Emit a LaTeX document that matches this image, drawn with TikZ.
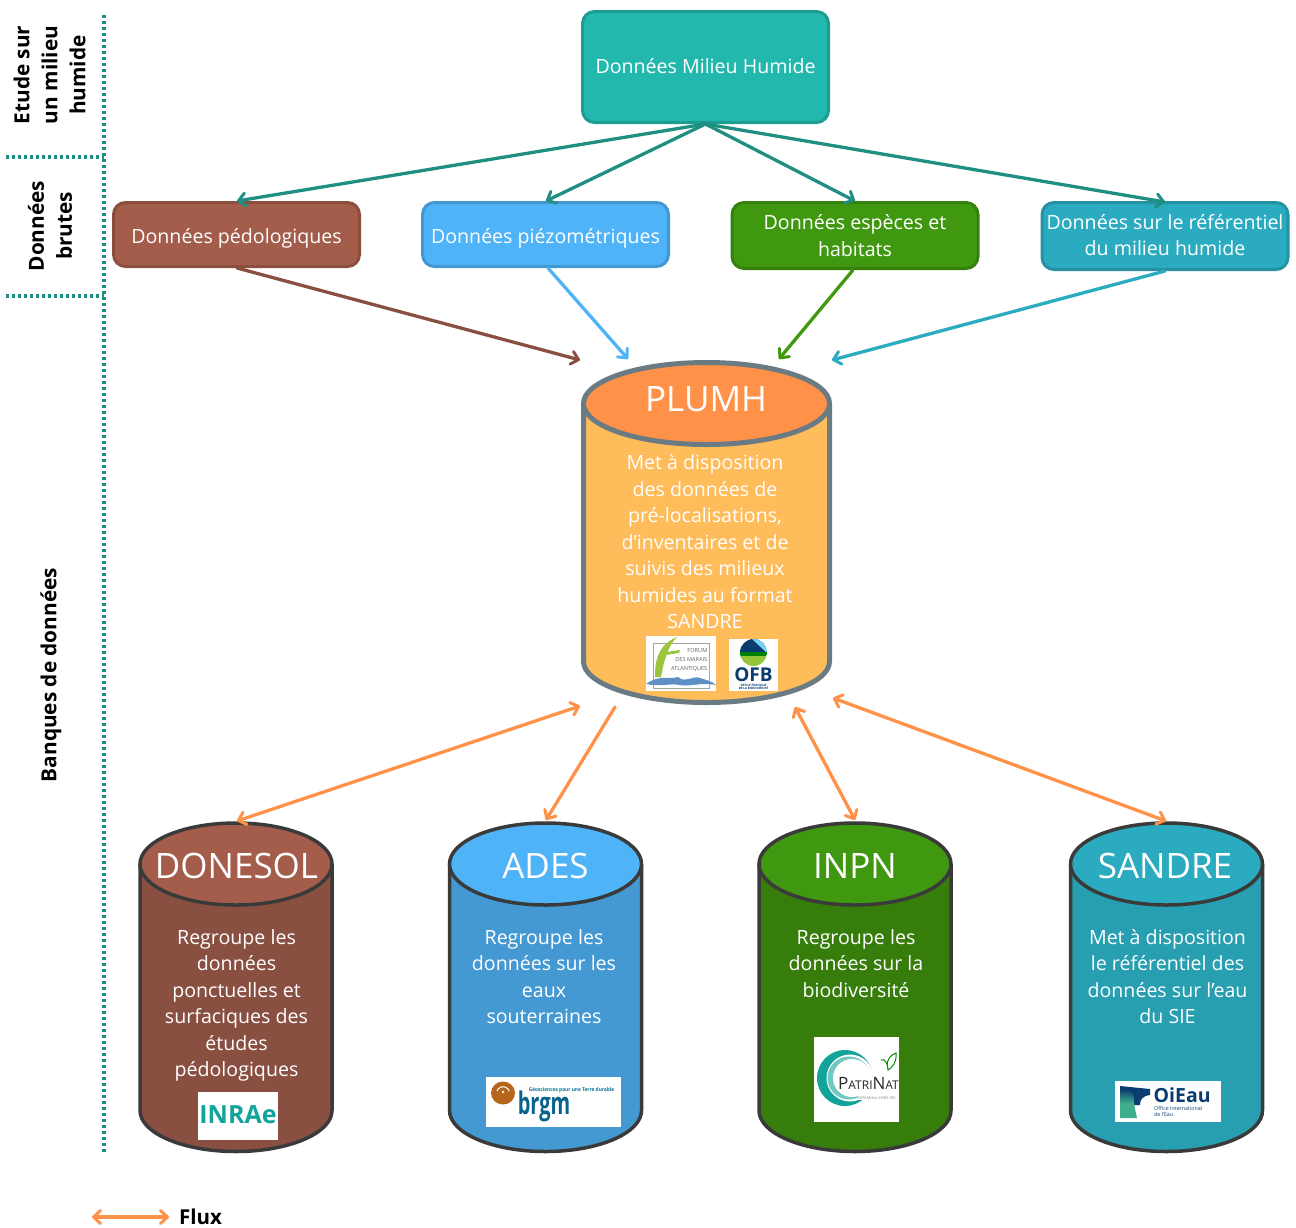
\documentclass[tikz,border=0pt]{standalone}
\usepackage{fontspec}
\setmainfont{Open Sans}
\usetikzlibrary{arrows.meta}
\definecolor{teal1}{HTML}{22B8AD}\definecolor{teal1d}{HTML}{1E9A8E}\definecolor{arrT}{HTML}{1F8F82}
\definecolor{brownA}{HTML}{A35D4A}\definecolor{brownB}{HTML}{895042}
\definecolor{blueA}{HTML}{4FB3F7}\definecolor{blueB}{HTML}{4599D3}
\definecolor{greenA}{HTML}{3F980F}\definecolor{greenB}{HTML}{377D0B}
\definecolor{cyanA}{HTML}{2BABBF}\definecolor{cyanB}{HTML}{279FB1}
\definecolor{orA}{HTML}{FF9248}\definecolor{orB}{HTML}{FFBC5A}\definecolor{greyC}{HTML}{6B7B84}
\definecolor{darkC}{HTML}{3A3A3A}
\definecolor{logoB}{HTML}{0B3C6F}\definecolor{logoT}{HTML}{12A39A}\definecolor{logoBr}{HTML}{B5661B}
\definecolor{fmaG}{HTML}{9BC53D}\definecolor{fmaW}{HTML}{5E90C6}\definecolor{oiG}{HTML}{3FAE8C}
\tikzset{
 box/.style={draw=#1!85!black,line width=3pt,rounded corners=12pt,minimum width=246pt,minimum height=64pt,align=center,text=white,font=\fontsize{19.6}{26.5}\selectfont,inner sep=0pt},
 body/.style={text=white,align=center,font=\fontsize{19.6}{26.5}\selectfont,inner sep=0pt,anchor=north},
 title/.style={text=white,font=\fontsize{35}{40}\selectfont,inner sep=0pt},
 side/.style={rotate=90,align=center,font=\fontsize{20.8}{28}\selectfont\bfseries,inner sep=0pt},
 flow/.style={line width=3.3pt,line cap=round,-{Straight Barb[length=7pt,width=13pt,line width=3pt,round]}},
 bi/.style={line width=3.3pt,line cap=round,orA,{Straight Barb[length=7pt,width=13pt,line width=3pt,round]}-{Straight Barb[length=7pt,width=13pt,line width=3pt,round]}},
 sep/.style={arrT,line width=3.2pt,dash pattern=on 3pt off 3pt},
 logo/.style={fill=white,draw=none}
}
\newcommand{\cyl}[9]{
 \draw[fill=#6,draw=#8,line width=#9] (#1-#4,#2) -- (#1-#4,#3) arc[start angle=180,end angle=360,x radius=#4,y radius=-#5] -- (#1+#4,#2);
 \draw[fill=#7,draw=#8,line width=#9] (#1,#2) ellipse[x radius=#4,y radius=#5];
}
\begin{document}
\begin{tikzpicture}[x=1pt,y=-1pt]
\useasboundingbox (0,0) rectangle (1296,1227);
% separators
\coordinate (vt) at (104,15); \coordinate (vb) at (104,1153);
\coordinate (h1a) at (6,157); \coordinate (h1b) at (104,157);
\coordinate (h2a) at (6,296); \coordinate (h2b) at (104,296);
\draw[sep] (vt) -- (vb); \draw[sep] (h1a) -- (h1b); \draw[sep] (h2a) -- (h2b);
\node[side] (s1) at (49.5,75) {Etude sur\\un milieu\\humide};
\node[side] (s2) at (50,226) {Données\\brutes};
\node[side] (s3) at (51,675) {Banques de données};
% boxes
\node[box=teal1,fill=teal1,minimum height=111pt] (top) at (705.5,67) {\rule[-2pt]{0pt}{0pt}Données Milieu Humide};
\node[box=brownA,fill=brownA] (b1) at (236.5,234.5) {\rule{0pt}{22pt}Données pédologiques};
\node[box=blueA,fill=blueA] (b2) at (545.5,234.5) {\rule{0pt}{22pt}Données piézométriques};
\node[box=greenA,fill=greenA,minimum height=66pt] (b3) at (855,235.5) {Données espèces et\\habitats};
\node[box=cyanA,fill=cyanA,minimum height=67pt] (b4) at (1165,236) {Données sur le référentiel\\du milieu humide\rule[-2pt]{0pt}{0pt}};
% cylinders
\cyl{706.5}{403.5}{661.5}{123}{41}{orB}{orA}{greyC}{5pt}
\node[title] (plumh) at (706,399) {PLUMH};
\node[body] (plumhT) at (705,454.5) {Met à disposition\\des données de\\pré-localisations,\\d’inventaires et de\\suivis des milieux\\humides au format\\SANDRE};
\cyl{236}{864}{1110.5}{96}{41}{brownB}{brownA}{darkC}{3.5pt}
\node[title] (c1) at (236.5,866) {DONESOL};
\node[body] (c1T) at (236.5,929) {Regroupe les\\données\\ponctuelles et\\surfaciques des\\études\\pédologiques};
\cyl{545.5}{864}{1110.5}{96}{41}{blueB}{blueA}{darkC}{3.5pt}
\node[title] (c2) at (545.5,866) {ADES};
\node[body] (c2T) at (544,929) {Regroupe les\\données sur les\\eaux\\souterraines};
\cyl{855}{864}{1110.5}{96}{41}{greenB}{greenA}{darkC}{3.5pt}
\node[title] (c3) at (855,866) {INPN};
\node[body] (c3T) at (856,929) {Regroupe les\\données sur la\\biodiversité};
\cyl{1166.5}{864}{1110.5}{96}{41}{cyanB}{cyanA}{darkC}{3.5pt}
\node[title] (c4) at (1165,866) {SANDRE};
\node[body] (c4T) at (1167.5,929) {Met à disposition\\le référentiel des\\données sur l’eau\\du SIE};
% connector ends
\coordinate (pIn1) at (580,360); \coordinate (pIn2) at (628,359); \coordinate (pIn3) at (779,359); \coordinate (pIn4) at (832,360);
\coordinate (pOut1) at (580,706); \coordinate (pOut2) at (615,707); \coordinate (pOut3) at (795,707); \coordinate (pOut4) at (833,698);
\coordinate (c1t) at (237,821); \coordinate (c2t) at (546,820); \coordinate (c3t) at (855,820); \coordinate (c4t) at (1166,821);
\coordinate (b1o) at (237,268); \coordinate (b2o) at (548,268); \coordinate (b3o) at (853,270); \coordinate (b4o) at (1165,271);
\coordinate (t1) at (237,201); \coordinate (t2) at (546,201); \coordinate (t3) at (855,201); \coordinate (t4) at (1165,202);
\draw[flow,arrT] (top.south) -- (t1);
\draw[flow,arrT] (top.south) -- (t2);
\draw[flow,arrT] (top.south) -- (t3);
\draw[flow,arrT] (top.south) -- (t4);
\draw[flow,brownB] (b1o) -- (pIn1);
\draw[flow,blueA] (b2o) -- (pIn2);
\draw[flow,greenA] (b3o) -- (pIn3);
\draw[flow,cyanA] (b4o) -- (pIn4);
\draw[bi] (pOut1) -- (c1t);
\draw[flow,orA] (pOut2) -- (c2t);
\draw[bi] (pOut3) -- (c3t);
\draw[bi] (pOut4) -- (c4t);
% legend
\coordinate (la) at (92,1217); \coordinate (lb) at (169,1217);
\draw[bi] (la) -- (lb);
\node[anchor=west,inner sep=0pt,font=\fontsize{20.5}{24}\selectfont\bfseries] (flux) at (179,1217) {Flux};
% logo FMA
\fill[logo] (646,636) rectangle (716,691);
\draw[gray!70,line width=.6pt] (653,643) rectangle (709,688);
\fill[fmaG] (655,677) .. controls (655,660) and (658,645) .. (677,637) .. controls (668,646) and (664,660) .. (661,677) -- cycle;
\fill[fmaG] (659,653) -- (680,650) -- (679,653) -- (659,656) -- cycle;
\node[inner sep=0pt,anchor=east,align=right,text=gray!80!black,font=\fontsize{5.6}{9}\selectfont] (fmaT) at (707.5,660) {FORUM\\DES MARAIS\\ATLANTIQUES};
\fill[fmaW] (646,684) .. controls (660,674) and (668,680) .. (678,677) .. controls (686,684) and (692,675) .. (700,678) .. controls (706,680) and (712,681) .. (716,685) .. controls (700,682) and (690,687) .. (680,685) .. controls (670,683) and (660,687) .. (646,684) -- cycle;
% logo OFB
\fill[logo] (729,639) rectangle (778,691);
\begin{scope}
\clip (753.5,652.5) circle (13.5);
\fill[logoB] (740,639) rectangle (767,652);
\fill[cyan!55!white] (752,639) -- (767,639) -- (767,653) -- cycle;
\fill[green!50!black] (740,652) rectangle (767,657);
\fill[green!35!yellow!55!gray] (740,656) rectangle (767,667);
\end{scope}
\node[inner sep=0pt,text=logoB,text depth=0pt,font=\fontsize{19}{19}\selectfont\bfseries] (ofbT) at (753.5,674.5) {OFB};
\node[inner sep=0pt,align=center,text=logoB,font=\fontsize{3}{3.6}\selectfont\bfseries] (ofbS) at (753.5,687) {OFFICE FRANÇAIS\\DE LA BIODIVERSITÉ};
% logo INRAE
\fill[logo] (198,1092) rectangle (278,1140);
\node[inner sep=0pt,text=logoT,font=\fontsize{25}{25}\selectfont\bfseries] (inrae) at (238,1115) {INRAe};
% logo brgm
\fill[logo] (486,1077) rectangle (621,1127);
\fill[logoBr] (503,1093) ellipse[x radius=12,y radius=11.5];
\draw[white,line width=1pt] (497,1091) arc[start angle=-160,end angle=-20,radius=6.5];
\fill[white] (503,1092) circle (1.3);
\node[inner sep=0pt,text=logoB!70!cyan,font=\fontsize{5.2}{6}\selectfont\bfseries] (brgmS) at (571.5,1090) {\scalebox{.92}[1]{Géosciences pour une Terre durable}};
\node[inner sep=0pt,text=logoB!80!cyan,font=\fontsize{27}{27}\selectfont\bfseries] (brgm) at (544,1106) {\scalebox{.74}[1.15]{brgm}};
% logo Patrinat
\fill[logo] (814,1037) rectangle (899,1122);
\fill[logoT] (845,1078) circle (28);
\fill[white] (850,1078) circle (23.5);
\fill[logoT!60!white] (849,1078) circle (21.5);
\fill[white] (852,1078) circle (19);
\fill[white] (858,1070) rectangle (880,1100);
\node[inner sep=0pt,text=black!85,font=\fontsize{12}{12}\selectfont] (patri) at (868.5,1083) {\fontsize{17}{17}\selectfont P\fontsize{12}{12}\selectfont ATRI\fontsize{17}{17}\selectfont N\fontsize{12}{12}\selectfont AT};
\node[inner sep=0pt,text=gray,font=\fontsize{3.8}{4}\selectfont] (patriS) at (877,1098) {OFB-Mnhn-CNRS-IRD};
\draw[green!55!black,line width=1pt] (881,1060) .. controls (885,1058) and (888,1064) .. (888,1070) .. controls (892,1068) and (897,1062) .. (896,1053) .. controls (890,1055) and (887,1060) .. (887,1066);
% logo OiEau
\fill[logo] (1115,1081) rectangle (1221,1122);
\begin{scope}
\clip (1120,1086) rectangle (1150,1118);
\fill[logoB] (1120,1086) -- (1150,1089) -- (1150,1095) .. controls (1142,1096) and (1140,1100) .. (1140,1105) -- (1120,1105) -- cycle;
\shade[top color=logoB,bottom color=oiG,middle color=oiG] (1120,1090) .. controls (1130,1089) and (1135,1094) .. (1134,1100) .. controls (1134,1108) and (1136,1112) .. (1137,1118) -- (1120,1118) -- cycle;
\end{scope}
\node[inner sep=0pt,anchor=west,text=logoB,font=\fontsize{19.5}{19.5}\selectfont\bfseries] (oieau) at (1153.5,1095.5) {OiEau};
\node[inner sep=0pt,anchor=west,align=left,text=logoB,font=\fontsize{5.3}{6.6}\selectfont] (oieauS) at (1154,1111.5) {Office International\\de l’Eau};
\end{tikzpicture}
\end{document}
